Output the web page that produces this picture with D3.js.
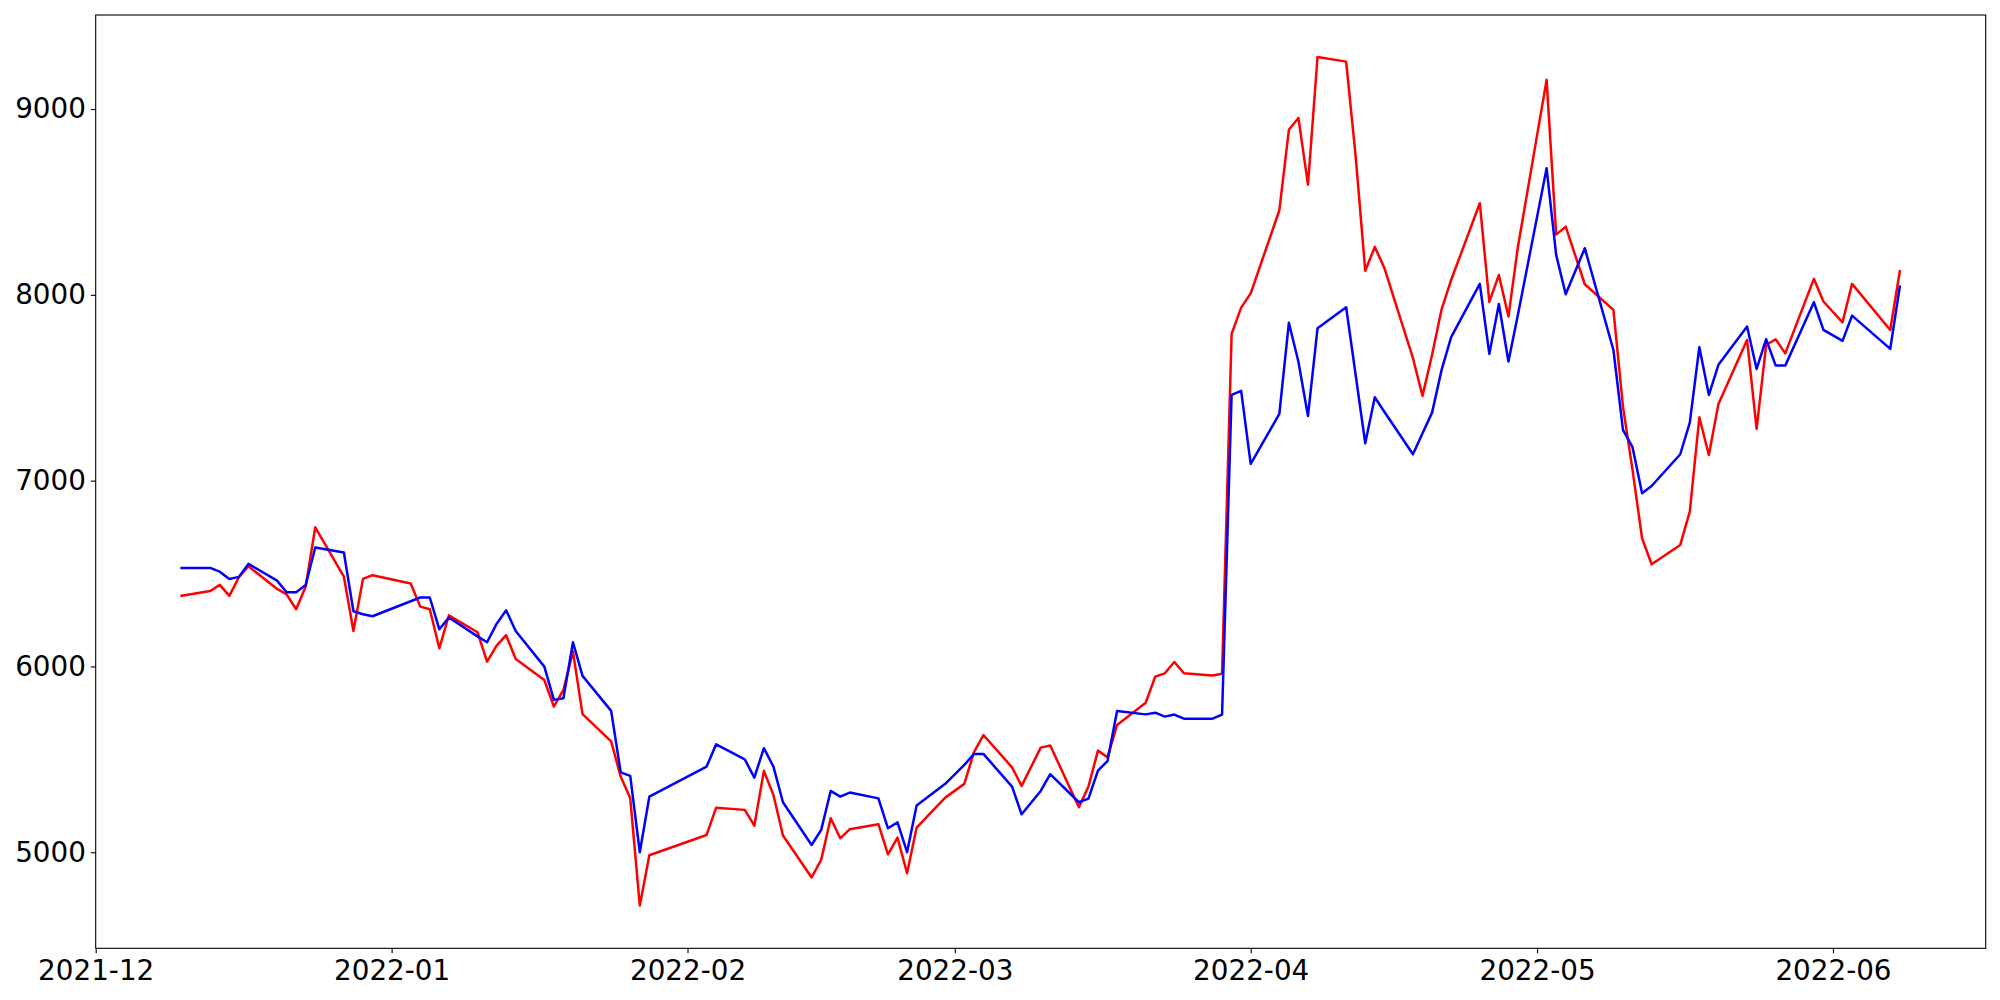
<!DOCTYPE html>
<html>
<head>
<meta charset="utf-8">
<script src="https://cdn.jsdelivr.net/npm/d3@7"></script>
<style>
  html, body { margin: 0; padding: 0; background: #fff; }
  svg { display: block; }
  text { font-family: "DejaVu Sans", sans-serif; }
</style>
</head>
<body>
<svg id="chart" width="2000" height="1000"></svg>
<script>
const dates = [
"2021-12-10","2021-12-13","2021-12-14","2021-12-15","2021-12-16","2021-12-17",
"2021-12-20","2021-12-21","2021-12-22","2021-12-23","2021-12-24",
"2021-12-27","2021-12-28","2021-12-29","2021-12-30",
"2022-01-03","2022-01-04","2022-01-05","2022-01-06","2022-01-07",
"2022-01-10","2022-01-11","2022-01-12","2022-01-13","2022-01-14",
"2022-01-17","2022-01-18","2022-01-19","2022-01-20","2022-01-21",
"2022-01-24","2022-01-25","2022-01-26","2022-01-27","2022-01-28",
"2022-02-03","2022-02-04",
"2022-02-07","2022-02-08","2022-02-09","2022-02-10","2022-02-11",
"2022-02-14","2022-02-15","2022-02-16","2022-02-17","2022-02-18",
"2022-02-21","2022-02-22","2022-02-23","2022-02-24","2022-02-25",
"2022-02-28",
"2022-03-02","2022-03-03","2022-03-04",
"2022-03-07","2022-03-08","2022-03-10","2022-03-11",
"2022-03-14","2022-03-15","2022-03-16","2022-03-17","2022-03-18",
"2022-03-21","2022-03-22","2022-03-23","2022-03-24","2022-03-25",
"2022-03-28","2022-03-29","2022-03-30","2022-03-31","2022-04-01",
"2022-04-04","2022-04-05","2022-04-06","2022-04-07","2022-04-08",
"2022-04-11","2022-04-12","2022-04-13","2022-04-14","2022-04-15",
"2022-04-18","2022-04-19","2022-04-20","2022-04-21","2022-04-22",
"2022-04-25","2022-04-26","2022-04-27","2022-04-28","2022-04-29",
"2022-05-02","2022-05-03","2022-05-04","2022-05-06",
"2022-05-09","2022-05-10","2022-05-11","2022-05-12","2022-05-13",
"2022-05-16","2022-05-17","2022-05-18","2022-05-19","2022-05-20",
"2022-05-23","2022-05-24","2022-05-25","2022-05-26","2022-05-27",
"2022-05-30","2022-05-31","2022-06-02","2022-06-03",
"2022-06-07","2022-06-08"
];

const redValues = [
6380, 6406, 6439, 6380, 6480, 6539, 6417, 6388, 6308, 6430, 6749, 6484, 6191, 6471, 6491,
6446, 6322, 6308, 6098, 6275, 6184, 6026, 6112, 6168, 6040, 5927, 5784, 5874, 6080, 5743, 5597, 5407, 5290, 4713, 4984,
5093, 5240, 5228, 5143, 5438, 5308, 5090, 4864, 4959, 5183, 5075, 5124, 5151, 4989, 5079, 4887, 5133, 5294,
5368, 5538, 5631, 5457, 5357, 5563, 5574, 5242, 5353, 5547, 5511, 5685, 5805, 5945, 5963, 6024, 5963, 5951, 5961, 7790, 7931,
8008, 8455, 8888, 8952, 8593, 9280, 9255, 8744, 8130, 8258, 8145, 7659, 7456, 7677, 7922, 8080, 8493, 7962, 8107, 7883, 8260,
9157, 8324, 8367, 8057, 7919, 7398, 7058, 6690, 6550, 6654, 6833, 7341, 7138, 7413, 7757, 7278, 7730, 7761, 7685, 8086, 7964,
7852, 8059, 7811, 8127
];

const blueValues = [
6530, 6530, 6510, 6471, 6482, 6552, 6462, 6399, 6399, 6439, 6640, 6613, 6297, 6281, 6270,
6351, 6371, 6371, 6200, 6263, 6162, 6130, 6229, 6302, 6191, 5999, 5820, 5829, 6130, 5949, 5761, 5430, 5411, 5000, 5299,
5461, 5581, 5500, 5402, 5560, 5461, 5269, 5039, 5120, 5330, 5299, 5321, 5290, 5129, 5161, 5000, 5251, 5368,
5470, 5529, 5529, 5353, 5204, 5330, 5420, 5269, 5289, 5439, 5491, 5760, 5742, 5751, 5730, 5741, 5719, 5719, 5741, 7461, 7483,
7090, 7359, 7850, 7640, 7348, 7820, 7933, 7567, 7201, 7449, 7371, 7142, 7255, 7366, 7596, 7772, 8059, 7682, 7951, 7641, 7894,
8681, 8215, 8003, 8251, 7703, 7273, 7180, 6932, 6971, 7142, 7312, 7718, 7461, 7623, 7829, 7601, 7761, 7619, 7619, 7960, 7811,
7752, 7888, 7709, 8044
];

const xTickDates = ["2021-12-01","2022-01-01","2022-02-01","2022-03-01","2022-04-01","2022-05-01","2022-06-01"];
const xTickLabels = ["2021-12","2022-01","2022-02","2022-03","2022-04","2022-05","2022-06"];
const yTicks = [5000, 6000, 7000, 8000, 9000];
const xDomain = ["2021-12-01", "2022-06-17"];
const yDomain = [4483, 9506];

const parse = d3.utcParse("%Y-%m-%d");
const L = 95.7, R = 1985.7, T = 15, B = 948.3;

const x = d3.scaleUtc().domain(xDomain.map(parse)).range([L, R]);
const y = d3.scaleLinear().domain(yDomain).range([B, T]);

const svg = d3.select("#chart");
svg.append("rect").attr("width", 2000).attr("height", 1000).attr("fill", "#fff");

const gPlot = svg.append("g");
const seriesList = [
  { values: redValues, color: "#ff0000" },
  { values: blueValues, color: "#0000ff" }
];
const line = d3.line().x(d => x(d.date)).y(d => y(d.value));
seriesList.forEach(s => {
  const pts = dates.map((d, i) => ({ date: parse(d), value: s.values[i] }));
  gPlot.append("path")
    .datum(pts)
    .attr("d", line)
    .attr("fill", "none")
    .attr("stroke", s.color)
    .attr("stroke-width", 2.5)
    .attr("stroke-linejoin", "round")
    .attr("stroke-linecap", "square");
});

// X axis
const xAxis = d3.axisBottom(x)
  .tickValues(xTickDates.map(parse))
  .tickFormat((d, i) => xTickLabels[i])
  .tickSize(4.9)
  .tickPadding(7);
const gx = svg.append("g").attr("transform", `translate(0,${B})`).call(xAxis);
gx.select(".domain").remove();
gx.selectAll(".tick line").attr("stroke", "#000").attr("stroke-width", 1.1);
gx.selectAll(".tick text").attr("font-size", "27.8px").attr("fill", "#000")
  .attr("font-family", "DejaVu Sans, sans-serif");

// Y axis
const yAxis = d3.axisLeft(y)
  .tickValues(yTicks)
  .tickFormat(d3.format("d"))
  .tickSize(4.9)
  .tickPadding(4.9);
const gy = svg.append("g").attr("transform", `translate(${L},0)`).call(yAxis);
gy.select(".domain").remove();
gy.selectAll(".tick line").attr("stroke", "#000").attr("stroke-width", 1.1);
gy.selectAll(".tick text").attr("font-size", "27.8px").attr("fill", "#000")
  .attr("font-family", "DejaVu Sans, sans-serif");

// Frame
svg.append("rect")
  .attr("x", L).attr("y", T)
  .attr("width", R - L).attr("height", B - T)
  .attr("fill", "none")
  .attr("stroke", "#000")
  .attr("stroke-width", 1.1);
</script>
</body>
</html>
